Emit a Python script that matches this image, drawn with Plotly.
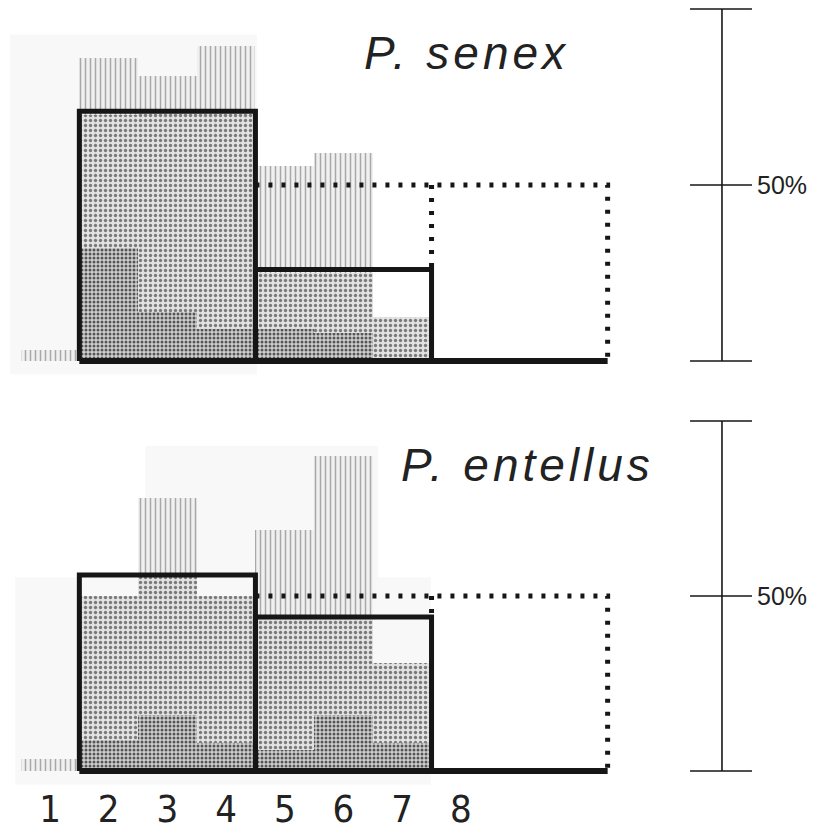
import plotly.graph_objects as go

# ---------------- data ----------------
bins = [1, 2, 3, 4, 5, 6, 7, 8]
tick_labels = ["1", "2", "3", "4", "5", "6", "7", "8"]

# P. senex (percent)
senex_striped = [3, 86, 81, 89.5, 55.5, 59, 0, 0]
senex_stipple = [0, 70, 71, 71, 25, 25, 12.5, 0]
senex_dense = [0, 32, 14, 9, 9, 8, 0, 0]
senex_group_edges = [1.5, 4.5, 7.5]
senex_group_values = [71, 26]

# P. entellus (percent)
entellus_striped = [3.5, 0, 78, 0, 69, 90, 0, 0]
entellus_stipple = [0, 50, 56, 50, 44, 44, 31, 0]
entellus_dense = [0, 9, 16, 8, 6, 16, 8, 0]
entellus_group_edges = [1.5, 4.5, 7.5]
entellus_group_values = [56, 44]

reference_edges = [4.5, 7.5, 10.5]
reference_value = 50
baseline_edges = [1.5, 10.5]
scale_ticks = [0, 50, 100]
scale_label = "50%"
titles = ["P. senex", "P. entellus"]

# ---------------- styles ----------------
INK = "#161616"
STRIPED = dict(shape="|", fgcolor="#a8a8a8", bgcolor="#f0f0f0", size=5, solidity=0.3, fillmode="replace")
STIPPLE = dict(shape=".", fgcolor="#7a7a7a", bgcolor="#e2e2e2", size=5, solidity=0.35, fillmode="replace")
DENSE = dict(shape=".", fgcolor="#555555", bgcolor="#cfcfcf", size=4, solidity=0.45, fillmode="replace")
NARROW = "Liberation Sans Narrow, DejaVu Sans Condensed, Arial Narrow, sans-serif"
SANS = "Liberation Sans, Arial, sans-serif"

fig = go.Figure()


def add_panel(xa, ya, striped, stipple, dense, edges, values):
    for vals, pat in ((striped, STRIPED), (stipple, STIPPLE), (dense, DENSE)):
        fig.add_trace(go.Bar(
            x=bins, y=vals, width=1, xaxis=xa, yaxis=ya,
            marker=dict(color=pat["bgcolor"], pattern=pat, line=dict(width=0)),
            showlegend=False, hoverinfo="skip"))
    # thick group boxes
    xs, ys = [], []
    for i, v in enumerate(values):
        x0, x1 = edges[i], edges[i + 1]
        xs += [x0, x0, x1, x1, None]
        ys += [0, v, v, 0, None]
    fig.add_trace(go.Scatter(x=xs, y=ys, mode="lines", xaxis=xa, yaxis=ya,
                             line=dict(color=INK, width=5), showlegend=False, hoverinfo="skip"))
    # dotted reference box (50%)
    rx = [reference_edges[0], reference_edges[-1], reference_edges[-1], None,
          reference_edges[1], reference_edges[1]]
    ry = [reference_value, reference_value, 0, None, reference_value, values[-1]]
    fig.add_trace(go.Scatter(x=rx, y=ry, mode="lines", xaxis=xa, yaxis=ya,
                             line=dict(color=INK, width=5, dash="4px,9px"),
                             showlegend=False, hoverinfo="skip"))
    # baseline
    fig.add_trace(go.Scatter(x=baseline_edges, y=[0, 0], mode="lines", xaxis=xa, yaxis=ya,
                             line=dict(color=INK, width=6), showlegend=False, hoverinfo="skip"))


add_panel("x", "y", senex_striped, senex_stipple, senex_dense, senex_group_edges, senex_group_values)
add_panel("x2", "y2", entellus_striped, entellus_stipple, entellus_dense,
          entellus_group_edges, entellus_group_values)

shapes = []
# faint paper wash of the original print (below everything)
for (x0, x1, y0, y1) in ((0.0025, 0.306, 0.556, 0.968), (0.169, 0.455, 0.0645, 0.469),
                         (0.009, 0.52, 0.0585, 0.31)):
    shapes.append(dict(type="rect", xref="paper", yref="paper", x0=x0, x1=x1, y0=y0, y1=y1,
                       fillcolor="#f8f8f8", line=dict(width=0), layer="below"))

# scale bars on the right
for yref in ("y", "y2"):
    shapes.append(dict(type="line", xref="paper", yref=yref, x0=0.8782, x1=0.8782,
                       y0=scale_ticks[0], y1=scale_ticks[-1], line=dict(color=INK, width=1.6)))
    for t in scale_ticks:
        shapes.append(dict(type="line", xref="paper", yref=yref, x0=0.8389, x1=0.9151,
                           y0=t, y1=t, line=dict(color=INK, width=1.4)))


def spaced(t):
    return '<span style="letter-spacing:4px"><i>' + t + "</i></span>"


annotations = [
    dict(text=spaced(titles[0]), xref="paper", yref="paper", x=0.5634, y=0.9455,
         xanchor="center", yanchor="middle",
         showarrow=False, font=dict(family=SANS, size=46, color="#222222")),
    dict(text=spaced(titles[1]), xref="paper", yref="paper", x=0.6384, y=0.4461,
         xanchor="center", yanchor="middle",
         showarrow=False, font=dict(family=SANS, size=46, color="#222222")),
]
for yref in ("y", "y2"):
    annotations.append(dict(text=scale_label, xref="paper", yref=yref, x=0.9188, xanchor="left",
                            y=scale_ticks[1], yanchor="middle", showarrow=False,
                            font=dict(family=SANS, size=25, color="#222222")))

axis_common = dict(showgrid=False, zeroline=False, showline=False, automargin=False)
XR = [0.2845, 14.135]
fig.update_layout(
    width=813, height=825,
    margin=dict(l=0, r=0, t=0, b=0),
    paper_bgcolor="white", plot_bgcolor="rgba(0,0,0,0)",
    barmode="overlay", bargap=0,
    shapes=shapes, annotations=annotations,
    xaxis=dict(domain=[0, 1], range=XR, anchor="y", showticklabels=False, ticks="", **axis_common),
    xaxis2=dict(domain=[0, 1], range=XR, anchor="free", position=0.0630, tickmode="array",
                tickvals=bins, ticktext=tick_labels, ticks="", ticklabelstandoff=2,
                tickfont=dict(family=NARROW, size=38, color="#222222"), **axis_common),
    yaxis=dict(domain=[0.55515, 1], range=[-3.97, 100.3], anchor="x", showticklabels=False, ticks="", **axis_common),
    yaxis2=dict(domain=[0.05818, 0.52485], range=[-4.0, 106.0], anchor="x2", showticklabels=False, ticks="", **axis_common),
)

fig.write_html("out.html")
